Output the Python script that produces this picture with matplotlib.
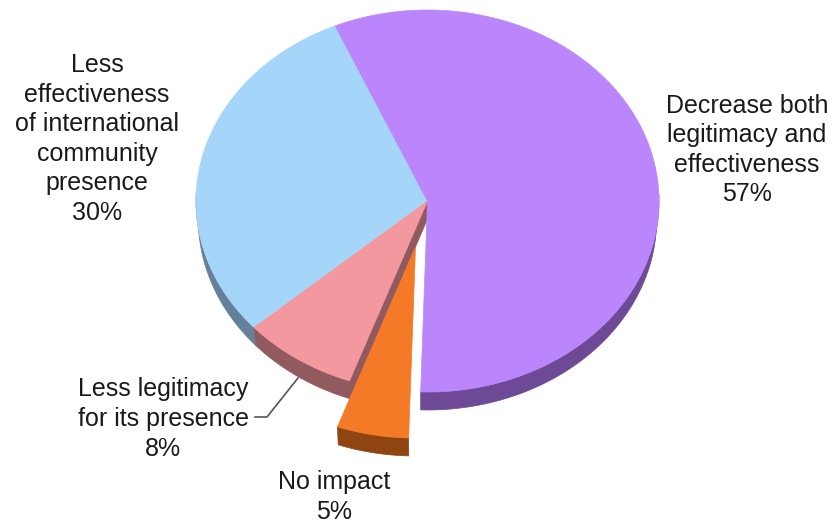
import numpy as np
import matplotlib.pyplot as plt
from matplotlib.patches import Polygon

plt.rcParams['font.family'] = ['Liberation Sans', 'DejaVu Sans']

labels = ['Decrease both\nlegitimacy and\neffectiveness', 'No impact',
          'Less legitimacy\nfor its presence',
          'Less\neffectiveness\nof international\ncommunity\npresence']
values = [57, 5, 8, 30]
colors = ['#BB86FB', '#F57A28', '#F4989F', '#A6D5FA']
sides = ['#6E4A96', '#8F4511', '#905A5F', '#64809A']
explode = [(0, 0), (-12, 46), (0, 0), (0, 0)]
label_pos = [(747, 150), (334, 497), (163, 419), (97, 139)]

cx, cy, rx, ry = 427.5, 201, 231.5, 191
depth = 18
shrink = 0.99
start = -23.5


def rims(a0, a1, dx=0, dy=0):
    # angles clockwise from the top, pixels with y going down
    t = np.radians(np.linspace(a0, a1, 200))
    top = np.column_stack([cx + dx + rx * np.sin(t), cy + dy - ry * np.cos(t)])
    bottom = np.column_stack([cx + dx + shrink * rx * np.sin(t), cy + dy + depth - ry * np.cos(t)])
    return top[np.cos(t) < 0.05], bottom[np.cos(t) < 0.05], top


fig = plt.figure(figsize=(8.32, 5.25), dpi=100)
ax = fig.add_axes([0, 0, 1, 1])
ax.set_xlim(0, 832)
ax.set_ylim(525, 0)
ax.axis('off')

edges = start + np.cumsum([0] + values) * 3.6
order = [3, 2, 0, 1]  # back to front

for z, i in enumerate(order):
    dx, dy = explode[i]
    upper, lower, rim = rims(edges[i], edges[i + 1], dx, dy)
    wall = np.vstack([upper, lower[::-1]])
    ax.add_patch(Polygon(wall, closed=True, fc=sides[i], ec=sides[i], lw=0.5, zorder=z * 2 + 1))
    apex = np.array([cx + dx, cy + dy])
    if i == 2:
        # pink shows its cut face next to the gap
        face = np.array([apex, rim[0], lower[0], apex + [0, depth]])
        ax.add_patch(Polygon(face, closed=True, fc=sides[i], ec=sides[i], lw=0.5, zorder=z * 2 + 1))
    ax.add_patch(Polygon(np.vstack([apex, rim]), closed=True, fc=colors[i], ec=colors[i], lw=0.5, zorder=z * 2 + 2))

for lab, v, (x, y) in zip(labels, values, label_pos):
    ax.text(x, y, f'{lab}\n{v}%', ha='center', va='center', fontsize=18,
            color='#1a1a1a', linespacing=1.29, zorder=20)

# leader line for the pink slice
ax.plot([255, 267, 298], [417, 417, 378], color='#555555', lw=1.2, zorder=1)

fig.savefig('out.png', dpi=100)
